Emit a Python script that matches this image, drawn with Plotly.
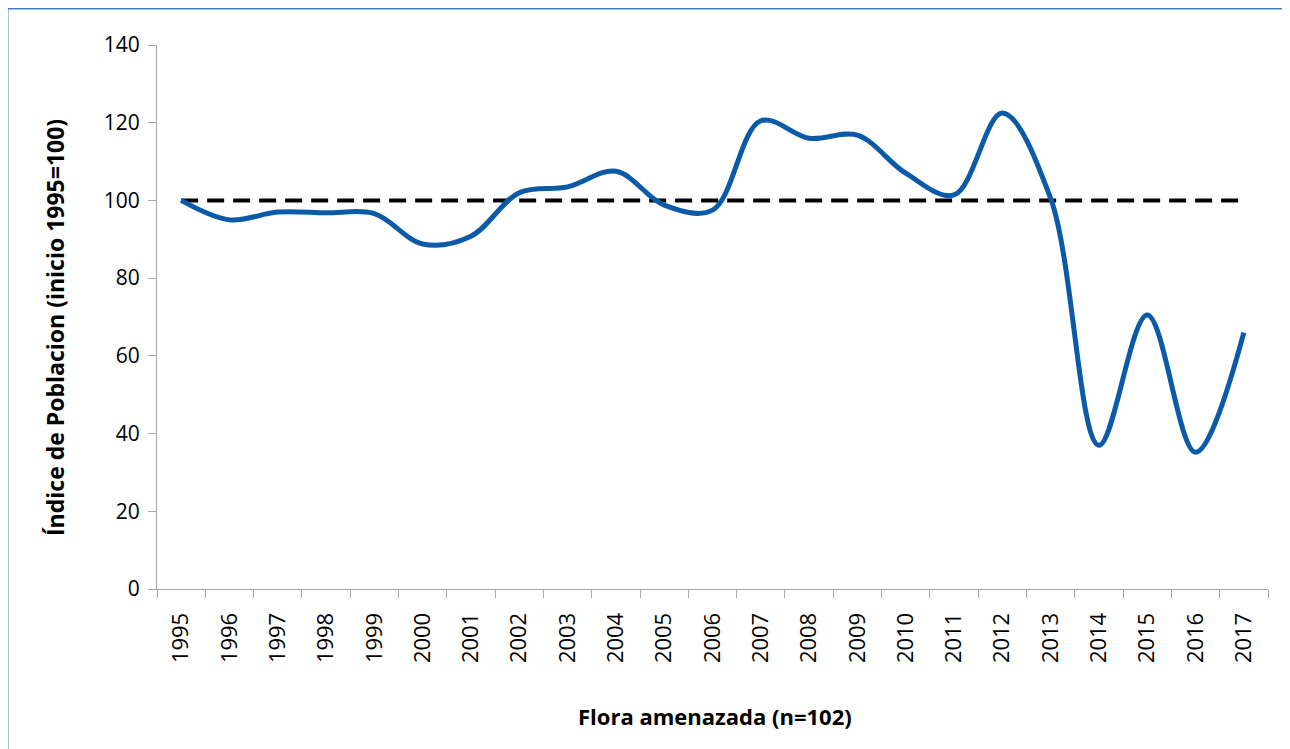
import plotly.graph_objects as go

years = [str(y) for y in range(1995, 2018)]
indice = [100, 95, 97, 96.8, 96.6, 88.8, 90.8, 102, 103.5, 107.5, 98.8, 97.5,
          120.5, 116, 116.8, 107, 101.4, 122.5, 100.5, 37, 70.5, 35.2, 66]
referencia = [100] * len(years)
y_ticks = [0, 20, 40, 60, 80, 100, 120, 140]

OFF = 8  # page body margin
W, H = 1290 - OFF, 749 - OFF
L, T = 157 - OFF, 45 - OFF
R = W - (1268 - OFF)
B = H - (589 - OFF)
pw, ph = W - L - R, H - T - B

def px_x(px):
    return (px - OFF - L) / pw

def px_y(py):
    return (H - B - (py - OFF)) / ph

fig = go.Figure()
fig.add_trace(go.Scatter(
    x=years, y=referencia, mode="lines",
    line=dict(color="black", width=4, dash="17px,9px"),
    hoverinfo="skip", showlegend=False))
fig.add_trace(go.Scatter(
    x=years, y=indice, mode="lines",
    line=dict(color="#0A5AA8", width=5, shape="spline", smoothing=1),
    showlegend=False))

font = "Open Sans, Lato, DejaVu Sans, sans-serif"
fig.update_layout(
    width=W, height=H,
    margin=dict(l=L, r=R, t=T, b=B, autoexpand=False),
    paper_bgcolor="white", plot_bgcolor="white",
    font=dict(family=font, size=21, color="black"),
    xaxis=dict(
        type="category", range=[-0.5, len(years) - 0.5],
        tickson="boundaries", ticks="outside", ticklen=8, tickwidth=1,
        tickcolor="#A6A6A6", showline=True, linecolor="#A6A6A6", linewidth=1,
        showgrid=False, tickangle=-90, tickfont=dict(size=22),
        ticklabelstandoff=14,
        automargin=False, fixedrange=True),
    yaxis=dict(
        range=[0, 140], tickvals=y_ticks, ticks="outside", ticklen=8,
        tickwidth=1, tickcolor="#A6A6A6", showline=True, linecolor="#A6A6A6",
        linewidth=1, showgrid=False, zeroline=False, tickfont=dict(size=21),
        ticklabelstandoff=4,
        automargin=False, fixedrange=True),
    shapes=[dict(
        type="rect", xref="paper", yref="paper",
        x0=px_x(7.5), x1=px_x(1300), y0=px_y(760), y1=px_y(8.5),
        line=dict(color="#3F7EC6", width=2), fillcolor="rgba(0,0,0,0)",
        layer="below")],
    annotations=[
        dict(text="<b>Flora amenazada (n=102)</b>", xref="paper", yref="paper",
             x=px_x(715), y=px_y(716), showarrow=False,
             xanchor="center", yanchor="middle", font=dict(size=22)),
        dict(text="<b>Índice de Poblacion (inicio 1995=100)</b>", xref="paper",
             yref="paper", x=px_x(55), y=px_y(328), showarrow=False,
             textangle=-90, xanchor="center", yanchor="middle",
             font=dict(size=23)),
    ],
)

fig.write_html("out.html")
